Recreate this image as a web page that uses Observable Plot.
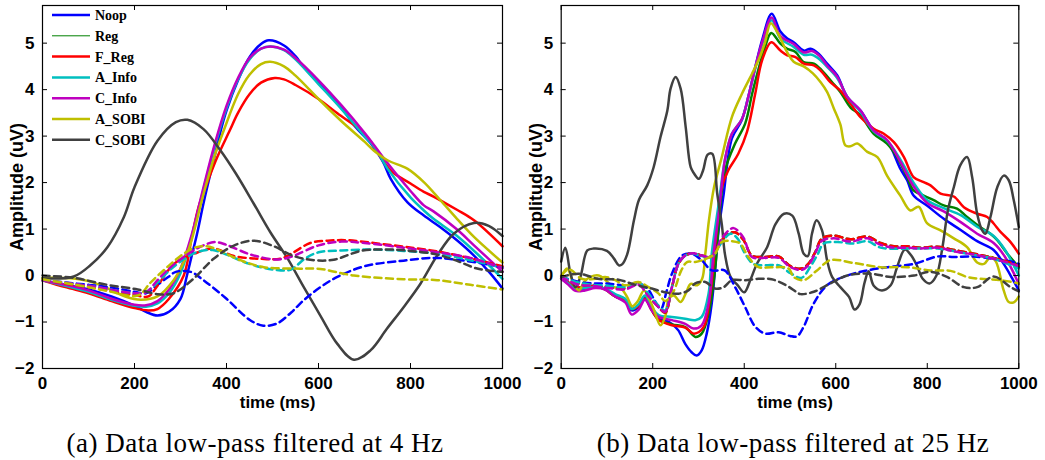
<!DOCTYPE html>
<html><head><meta charset="utf-8">
<script src="https://cdn.jsdelivr.net/npm/d3@7"></script>
<script src="https://cdn.jsdelivr.net/npm/@observablehq/plot@0.6"></script>
<style>
body{margin:0;background:#fff;width:1045px;height:460px;overflow:hidden;position:relative;}
#left{position:absolute;left:0;top:0}
#right{position:absolute;left:522px;top:0}
#legend{position:absolute;left:0;top:0}
.cap{position:absolute;top:428px;font-family:"Liberation Serif","Times New Roman",serif;font-size:27px;letter-spacing:0.5px;white-space:nowrap;transform:translateX(-50%);color:#000;line-height:30px}
</style></head><body>
<div id="left"></div><div id="right"></div><svg id="legend" width="200" height="160"></svg>
<div class="cap" style="left:255px">(a) Data low-pass filtered at 4 Hz</div>
<div class="cap" style="left:793px">(b) Data low-pass filtered at 25 Hz</div>
<script>
// ---------- series meta ----------
const seriesNames = ["Noop","Reg","F_Reg","A_Info","C_Info","A_SOBI","C_SOBI"];
const seriesColors = ["#0000ff","#008000","#ff0000","#00bfbf","#bf00bf","#bfbf00","#404040"];
const xTicks = [0,200,400,600,800,1000];
const yTicks = [-2,-1,0,1,2,3,4,5];

// ---------- (a) 4 Hz : solid ----------
const L_Noop = [[0,-0.1],[50,-0.2],[100,-0.3],[150,-0.45],[200,-0.65],[225,-0.78],[250,-0.86],[275,-0.78],[300,-0.5],[314,0],[325,0.45],[336,0.9],[351,1.6],[375,2.6],[387,3.1],[400,3.55],[425,4.2],[450,4.7],[475,4.98],[492,5.06],[525,4.95],[550,4.72],[568,4.48],[600,4.15],[641,3.73],[680,3.2],[713,2.85],[740,2.45],[757,2.08],[793,1.58],[829,1.29],[865,1.04],[901,0.76],[938,0.43],[974,0.04],[1000,-0.28]];
const L_F_Reg = [[0,-0.1],[50,-0.25],[100,-0.38],[150,-0.55],[200,-0.7],[230,-0.75],[250,-0.72],[275,-0.5],[307,0],[325,0.85],[340,1.5],[360,2.05],[380,2.55],[407,3.12],[425,3.5],[450,3.9],[475,4.15],[505,4.25],[525,4.22],[550,4.1],[600,3.8],[641,3.49],[700,3.05],[757,2.26],[800,1.98],[829,1.8],[850,1.7],[900,1.42],[938,1.19],[1000,0.63]];
const L_Reg = [[0,-0.1],[50,-0.25],[100,-0.38],[150,-0.55],[200,-0.7],[230,-0.75],[250,-0.72],[275,-0.5],[307,0],[325,0.85],[340,1.5],[360,2.05],[380,2.55],[407,3.12],[425,3.5],[450,3.9],[475,4.15],[505,4.25],[525,4.22],[550,4.1],[600,3.8],[641,3.49],[700,3.05],[757,2.26],[800,1.98],[829,1.8],[850,1.7],[900,1.42],[938,1.19],[1000,0.63]];
const L_A_Info = [[0,-0.1],[50,-0.22],[100,-0.35],[150,-0.52],[200,-0.65],[225,-0.67],[250,-0.6],[275,-0.38],[300,0.05],[325,0.85],[350,1.85],[375,2.8],[400,3.6],[425,4.22],[450,4.65],[475,4.88],[495,4.93],[525,4.85],[550,4.65],[600,4.12],[650,3.58],[700,3.0],[725,2.72],[750,2.3],[800,1.68],[829,1.4],[850,1.22],[900,0.86],[950,0.42],[1000,-0.07]];
const L_C_Info = [[0,-0.1],[50,-0.2],[100,-0.32],[150,-0.5],[200,-0.63],[225,-0.64],[250,-0.55],[275,-0.3],[300,0.15],[325,0.9],[350,1.9],[375,2.85],[400,3.65],[425,4.25],[450,4.68],[475,4.88],[495,4.93],[525,4.86],[550,4.68],[600,4.2],[650,3.66],[700,3.07],[725,2.75],[750,2.42],[800,1.82],[829,1.51],[850,1.38],[900,1.0],[938,0.65],[1000,0.08]];
const L_A_SOBI = [[0,-0.05],[61,-0.06],[100,-0.12],[141,-0.27],[180,-0.45],[214,-0.52],[250,-0.45],[285,-0.1],[307,0.29],[322,0.69],[350,1.75],[375,2.6],[394,3.12],[425,3.9],[450,4.32],[475,4.55],[495,4.6],[525,4.5],[550,4.3],[600,3.8],[650,3.32],[700,2.88],[720,2.69],[750,2.48],[793,2.3],[829,2.01],[865,1.62],[901,1.22],[938,0.83],[1000,0.28]];
const L_C_SOBI = [[0,-0.06],[68,-0.02],[104,0.22],[141,0.61],[177,1.26],[200,1.9],[250,2.9],[290,3.3],[315,3.35],[350,3.15],[387,2.69],[420,2.2],[459,1.55],[496,0.92],[532,0.38],[568,-0.25],[604,-0.86],[641,-1.47],[677,-1.81],[713,-1.61],[749,-1.14],[785,-0.68],[822,-0.17],[858,0.43],[894,0.9],[938,1.13],[970,1.07],[1000,0.85]];
// ---------- (a) 4 Hz : dashed ----------
const L_Noop_d = [[0,-0.1],[50,-0.15],[100,-0.2],[150,-0.26],[200,-0.35],[225,-0.38],[250,-0.2],[275,-0.02],[290,0.08],[322,0.08],[350,-0.1],[400,-0.5],[450,-0.95],[480,-1.08],[510,-1.03],[540,-0.8],[568,-0.53],[604,-0.25],[641,-0.03],[700,0.2],[785,0.32],[850,0.38],[900,0.34],[950,0.27],[1000,0.18]];
const L_F_Reg_d = [[0,-0.1],[100,-0.25],[200,-0.42],[230,-0.45],[250,-0.22],[286,0.25],[330,0.47],[373,0.58],[416,0.42],[474,0.36],[520,0.37],[546,0.5],[582,0.7],[620,0.75],[662,0.76],[720,0.7],[785,0.62],[858,0.52],[930,0.37],[1000,0.2]];
const L_Reg_d = [[0,-0.1],[100,-0.25],[200,-0.42],[230,-0.45],[250,-0.22],[286,0.25],[330,0.47],[373,0.58],[416,0.42],[474,0.36],[520,0.37],[546,0.5],[582,0.7],[620,0.75],[662,0.76],[720,0.7],[785,0.62],[858,0.52],[930,0.37],[1000,0.2]];
const L_A_Info_d = [[0,-0.1],[100,-0.22],[200,-0.38],[225,-0.35],[250,-0.15],[275,0.1],[300,0.3],[335,0.5],[370,0.55],[400,0.45],[450,0.25],[500,0.13],[540,0.13],[570,0.36],[600,0.5],[650,0.54],[713,0.56],[785,0.53],[858,0.47],[930,0.33],[1000,0.17]];
const L_C_Info_d = [[0,-0.1],[100,-0.22],[200,-0.38],[225,-0.36],[250,-0.1],[275,0.15],[300,0.35],[325,0.52],[350,0.65],[375,0.72],[400,0.66],[450,0.46],[500,0.35],[525,0.36],[550,0.44],[600,0.65],[650,0.73],[700,0.7],[785,0.6],[858,0.5],[930,0.38],[1000,0.16]];
const L_A_SOBI_d = [[0,-0.08],[100,-0.25],[141,-0.33],[207,-0.43],[236,-0.14],[279,0.25],[307,0.47],[330,0.6],[355,0.63],[380,0.56],[430,0.33],[481,0.18],[550,0.15],[604,0.14],[677,0.0],[785,-0.08],[858,-0.1],[930,-0.2],[1000,-0.3]];
const L_C_SOBI_d = [[0,0.0],[68,-0.05],[141,-0.2],[207,-0.3],[250,-0.4],[285,-0.38],[328,-0.07],[372,0.36],[415,0.64],[459,0.75],[503,0.63],[546,0.42],[590,0.33],[633,0.34],[692,0.53],[750,0.56],[800,0.53],[858,0.45],[900,0.32],[945,0.15],[1000,0.08]];

// ---------- (b) 25 Hz : solid ----------
const R_Noop = [[0,-0.07],[16,-0.17],[31,-0.28],[52,-0.28],[74,-0.25],[96,-0.28],[118,-0.43],[140,-0.53],[154,-0.75],[169,-0.68],[183,-0.46],[198,-0.71],[213,-0.93],[227,-0.96],[242,-1.04],[256,-1.18],[271,-1.47],[285,-1.65],[296,-1.72],[307,-1.61],[318,-1.25],[329,-0.6],[336,0.11],[344,0.97],[355,1.75],[373,2.95],[395,3.35],[409,3.85],[424,4.48],[440,5.1],[460,5.63],[479,5.25],[494,5.1],[508,5.02],[530,4.84],[545,4.88],[563,4.77],[581,4.56],[603,4.31],[625,3.84],[654,3.55],[683,3.12],[712,2.9],[741,2.3],[756,2.05],[770,1.72],[800,1.5],[836,1.22],[873,0.98],[909,0.74],[945,0.55],[967,0.25],[985,-0.05],[1000,-0.32]];
const R_Reg = [[0,-0.07],[16,-0.15],[31,-0.25],[52,-0.25],[74,-0.22],[96,-0.3],[118,-0.45],[140,-0.55],[154,-0.72],[169,-0.65],[183,-0.5],[198,-0.75],[213,-0.95],[242,-1.05],[271,-1.11],[293,-1.32],[307,-1.25],[322,-0.82],[336,0.1],[345,1.2],[358,2.26],[380,2.84],[402,3.27],[417,3.9],[430,4.4],[445,4.9],[459,5.22],[479,4.99],[494,4.88],[512,4.81],[530,4.59],[552,4.56],[570,4.41],[592,4.16],[610,3.95],[632,3.62],[654,3.45],[683,3.05],[712,2.84],[734,2.55],[756,2.12],[770,1.83],[792,1.72],[814,1.62],[836,1.51],[865,1.44],[887,1.26],[916,1.04],[938,0.9],[953,0.76],[975,0.47],[1000,0.18]];
const R_F_Reg = [[0,-0.07],[16,-0.15],[31,-0.25],[52,-0.25],[74,-0.22],[96,-0.3],[118,-0.45],[140,-0.55],[154,-0.72],[169,-0.65],[183,-0.5],[198,-0.75],[213,-0.95],[242,-1.07],[271,-1.12],[290,-1.25],[311,-1.11],[325,-0.46],[336,0.61],[351,1.9],[365,2.26],[387,2.62],[406,3.09],[424,3.91],[439,4.63],[459,5.02],[479,4.84],[494,4.74],[512,4.7],[530,4.56],[552,4.52],[567,4.41],[588,4.16],[610,3.98],[632,3.7],[654,3.41],[683,3.16],[705,3.05],[727,2.87],[749,2.55],[770,2.12],[792,2.01],[807,1.94],[829,1.76],[858,1.7],[880,1.47],[909,1.33],[931,1.26],[945,1.12],[960,0.94],[982,0.72],[1000,0.47]];
const R_A_Info = [[0,-0.07],[16,-0.17],[31,-0.3],[52,-0.27],[74,-0.25],[96,-0.28],[118,-0.4],[140,-0.5],[154,-0.72],[169,-0.62],[183,-0.43],[198,-0.68],[213,-0.85],[242,-0.89],[271,-0.93],[293,-0.96],[307,-0.89],[322,-0.39],[329,0.47],[345,1.6],[358,2.5],[373,3.05],[395,3.37],[409,3.85],[424,4.45],[440,5.0],[460,5.49],[479,5.1],[508,4.92],[530,4.75],[548,4.75],[565,4.65],[581,4.49],[603,4.25],[625,3.85],[654,3.52],[683,3.1],[712,2.9],[741,2.5],[770,2.0],[800,1.62],[836,1.45],[873,1.3],[909,1.05],[945,0.85],[970,0.55],[1000,0.0]];
const R_C_Info = [[0,-0.07],[16,-0.2],[31,-0.33],[52,-0.32],[74,-0.27],[96,-0.3],[118,-0.45],[140,-0.58],[154,-0.84],[169,-0.74],[183,-0.52],[198,-0.75],[213,-0.89],[242,-0.96],[271,-1.04],[289,-1.14],[307,-1.07],[322,-0.6],[333,0.47],[345,1.4],[358,2.5],[373,3.05],[395,3.37],[409,3.85],[424,4.48],[440,5.05],[460,5.55],[479,5.15],[508,4.98],[530,4.8],[548,4.83],[565,4.72],[581,4.52],[603,4.28],[625,3.85],[654,3.55],[683,3.12],[712,2.92],[741,2.45],[770,1.92],[800,1.56],[836,1.38],[873,1.15],[909,0.9],[945,0.7],[970,0.4],[1000,-0.18]];
const R_A_SOBI = [[0,-0.03],[13,0.15],[28,-0.2],[39,-0.32],[50,-0.14],[64,-0.03],[82,0.0],[97,-0.1],[115,-0.25],[130,-0.27],[144,-0.46],[155,-0.66],[166,-0.57],[181,-0.32],[192,-0.5],[202,-0.72],[217,-1.07],[228,-0.86],[235,-0.5],[246,-0.43],[261,-0.57],[272,-0.39],[283,-0.18],[297,-0.21],[308,-0.07],[315,0.47],[323,1.2],[334,1.9],[351,2.55],[373,3.41],[395,3.91],[417,4.34],[431,4.63],[445,5.0],[458,5.43],[472,5.24],[494,4.8],[508,4.6],[530,4.5],[550,4.35],[567,4.16],[581,3.95],[596,3.59],[610,3.25],[621,2.8],[632,2.78],[647,2.84],[669,2.66],[691,2.55],[712,2.15],[741,1.72],[763,1.4],[781,1.48],[800,1.12],[829,0.97],[858,0.8],[887,0.61],[909,0.28],[924,0.25],[938,0.4],[950,0.3],[967,-0.32],[978,-0.57],[990,-0.57],[1000,-0.45]];
const R_C_SOBI = [[0,0.3],[9,0.6],[20,0.06],[31,-0.25],[42,-0.03],[57,0.54],[71,0.58],[100,0.53],[115,0.37],[126,0.22],[133,0.24],[144,0.45],[159,1.19],[170,1.63],[188,1.94],[202,2.33],[217,2.98],[232,3.55],[239,4.02],[250,4.27],[261,4.02],[272,3.2],[283,2.33],[290,2.2],[301,2.08],[310,2.26],[320,2.6],[330,2.62],[341,1.76],[351,1.1],[358,0.45],[370,-0.03],[385,-0.2],[400,-0.36],[414,-0.08],[428,0.26],[450,0.61],[468,1.1],[487,1.33],[505,1.29],[519,0.9],[530,0.47],[539,0.42],[548,0.9],[558,1.19],[570,0.97],[581,0.33],[592,-0.03],[610,-0.25],[629,-0.46],[641,-0.73],[652,-0.62],[663,-0.15],[672,0.09],[683,-0.22],[701,-0.32],[720,-0.21],[734,0.18],[751,0.56],[765,0.43],[778,0.2],[790,-0.07],[805,-0.17],[820,0.0],[833,0.6],[845,1.4],[858,1.9],[872,2.37],[887,2.55],[898,2.12],[909,1.33],[920,0.97],[927,0.9],[938,1.26],[953,1.9],[967,2.15],[978,2.05],[989,1.62],[1000,1.04]];
// ---------- (b) 25 Hz : dashed ----------
const R_Noop_d = [[0,-0.03],[40,-0.14],[70,-0.17],[100,-0.17],[140,-0.21],[170,-0.17],[190,-0.3],[205,-0.55],[218,-0.72],[230,-0.35],[242,0.04],[264,0.43],[285,0.47],[307,0.33],[329,0.11],[357,0.11],[380,-0.25],[402,-0.68],[424,-1.1],[446,-1.25],[475,-1.22],[500,-1.3],[515,-1.31],[530,-1.1],[552,-0.6],[581,-0.21],[625,0.0],[669,0.11],[712,0.18],[771,0.25],[822,0.41],[858,0.4],[902,0.41],[945,0.36],[989,0.29],[1000,0.25]];
const R_F_Reg_d = [[0,-0.03],[38,-0.17],[67,-0.2],[103,-0.25],[140,-0.28],[169,-0.17],[191,-0.43],[213,-0.68],[227,-0.8],[242,-0.25],[256,0.25],[271,0.43],[289,0.48],[307,0.43],[329,0.41],[351,0.76],[366,0.9],[380,0.93],[398,0.77],[417,0.43],[446,0.4],[475,0.41],[501,0.2],[525,0.15],[540,0.25],[555,0.5],[570,0.8],[596,0.86],[632,0.78],[669,0.84],[698,0.7],[727,0.63],[756,0.63],[785,0.6],[822,0.62],[858,0.55],[902,0.47],[945,0.38],[989,0.25],[1000,0.2]];
const R_Reg_d = [[0,-0.03],[38,-0.17],[67,-0.2],[103,-0.25],[140,-0.28],[169,-0.17],[191,-0.43],[213,-0.68],[227,-0.8],[242,-0.25],[256,0.25],[271,0.43],[289,0.48],[307,0.43],[329,0.41],[351,0.76],[366,0.9],[380,0.93],[398,0.77],[417,0.43],[446,0.4],[475,0.41],[501,0.2],[525,0.15],[540,0.25],[555,0.5],[570,0.8],[596,0.86],[632,0.78],[669,0.84],[698,0.7],[727,0.63],[756,0.63],[785,0.6],[822,0.62],[858,0.55],[902,0.47],[945,0.38],[989,0.25],[1000,0.2]];
const R_A_Info_d = [[0,-0.03],[38,-0.15],[67,-0.2],[103,-0.22],[140,-0.25],[169,-0.15],[191,-0.4],[213,-0.65],[227,-0.75],[242,-0.25],[256,0.25],[271,0.43],[289,0.47],[307,0.42],[329,0.4],[351,0.72],[370,0.9],[385,0.8],[400,0.5],[420,0.25],[446,0.22],[475,0.22],[501,0.05],[525,-0.05],[545,0.2],[560,0.45],[574,0.69],[603,0.72],[639,0.69],[669,0.74],[698,0.6],[771,0.58],[822,0.58],[887,0.47],[945,0.36],[1000,0.15]];
const R_C_Info_d = [[0,-0.03],[38,-0.2],[67,-0.22],[103,-0.27],[140,-0.3],[169,-0.2],[191,-0.45],[213,-0.68],[227,-0.78],[242,-0.25],[256,0.25],[271,0.43],[289,0.48],[307,0.43],[329,0.41],[351,0.8],[366,0.97],[377,1.02],[398,0.82],[417,0.4],[446,0.38],[475,0.38],[501,0.18],[525,0.12],[540,0.22],[555,0.48],[570,0.75],[596,0.8],[632,0.73],[669,0.8],[698,0.66],[727,0.6],[756,0.6],[785,0.58],[822,0.6],[858,0.52],[902,0.45],[945,0.36],[989,0.24],[1000,0.2]];
const R_A_SOBI_d = [[0,0.0],[15,0.13],[23,0.11],[45,-0.07],[75,-0.07],[96,-0.03],[118,-0.1],[140,-0.21],[169,-0.14],[191,-0.25],[213,-0.39],[227,-0.55],[245,-0.35],[262,0.1],[275,0.29],[293,0.29],[316,0.36],[336,0.47],[351,0.72],[373,0.74],[391,0.69],[409,0.4],[431,0.18],[460,0.18],[497,0.15],[508,-0.03],[530,-0.1],[559,0.11],[588,0.33],[639,0.27],[698,0.18],[756,0.18],[807,0.11],[851,0.1],[887,-0.03],[916,-0.07],[960,-0.1],[1000,-0.17]];
const R_C_SOBI_d = [[0,-0.03],[38,0.04],[80,-0.07],[125,-0.09],[162,-0.2],[198,-0.28],[227,-0.36],[256,-0.39],[278,-0.32],[293,-0.17],[315,-0.14],[336,-0.28],[355,-0.25],[373,-0.1],[402,-0.1],[431,-0.07],[460,-0.08],[490,-0.2],[515,-0.36],[523,-0.4],[552,-0.35],[588,-0.17],[625,0.0],[676,0.04],[720,-0.03],[771,0.0],[807,0.08],[843,-0.03],[880,-0.25],[909,-0.25],[945,-0.02],[982,-0.25],[1000,-0.34]];

const leftSolid = [L_Noop, L_Reg, L_F_Reg, L_A_Info, L_C_Info, L_A_SOBI, L_C_SOBI];
const leftDashed = [L_Noop_d, L_Reg_d, L_F_Reg_d, L_A_Info_d, L_C_Info_d, L_A_SOBI_d, L_C_SOBI_d];
const rightSolid = [R_Noop, R_Reg, R_F_Reg, R_A_Info, R_C_Info, R_A_SOBI, R_C_SOBI];
const rightDashed = [R_Noop_d, R_Reg_d, R_F_Reg_d, R_A_Info_d, R_C_Info_d, R_A_SOBI_d, R_C_SOBI_d];

const SANS = "Liberation Sans, Arial, Helvetica, sans-serif";
const fmt = d => d < 0 ? "\u2212" + Math.abs(d) : String(d);

function panel({width, marginLeft, marginRight, solid, dashed, regWidth}) {
  const height = 410, marginTop = 5, marginBottom = 42;
  const fw = width - marginLeft - marginRight, fh = height - marginTop - marginBottom;
  const marks = [];
  solid.forEach((s, i) => {
    marks.push(Plot.line(s, {x: d => d[0], y: d => d[1], stroke: seriesColors[i],
      strokeWidth: i === 1 ? regWidth : 2.5, curve: "catmull-rom"}));
  });
  dashed.forEach((s, i) => {
    marks.push(Plot.line(s, {x: d => d[0], y: d => d[1], stroke: seriesColors[i],
      strokeWidth: i === 1 ? regWidth : 2.5, strokeDasharray: "7,4.5", curve: "catmull-rom"}));
  });
  // MATLAB-style inward ticks on all four sides
  marks.push(Plot.tickX(xTicks, {x: d => d, insetTop: fh - 5, stroke: "#000", strokeWidth: 1}));
  marks.push(Plot.tickX(xTicks, {x: d => d, insetBottom: fh - 5, stroke: "#000", strokeWidth: 1}));
  marks.push(Plot.tickY(yTicks, {y: d => d, insetRight: fw - 5, stroke: "#000", strokeWidth: 1}));
  marks.push(Plot.tickY(yTicks, {y: d => d, insetLeft: fw - 5, stroke: "#000", strokeWidth: 1}));
  marks.push(Plot.frame({stroke: "#000", strokeWidth: 1.2}));
  marks.push(Plot.axisX(xTicks, {anchor: "bottom", tickSize: 0, tickPadding: 8, label: null, tickFormat: fmt,
    fontSize: 17, fontWeight: "bold", fontFamily: SANS, fill: "#000"}));
  marks.push(Plot.axisY(yTicks, {anchor: "left", tickSize: 0, tickPadding: 8, label: null, tickFormat: fmt,
    fontSize: 17, fontWeight: "bold", fontFamily: SANS, fill: "#000"}));
  marks.push(Plot.text(["Amplitude (uV)"], {frameAnchor: "left", dx: -25, rotate: -90,
    text: d => d, fontSize: 18, fontWeight: "bold", fontFamily: SANS, fill: "#000",
    textAnchor: "middle", lineAnchor: "middle"}));
  marks.push(Plot.text(["time (ms)"], {frameAnchor: "bottom", dy: 34, dx: 5,
    text: d => d, fontSize: 17, fontWeight: "bold", fontFamily: SANS, fill: "#000",
    textAnchor: "middle", lineAnchor: "middle"}));
  return Plot.plot({
    width, height, marginTop, marginBottom, marginLeft, marginRight,
    x: {domain: [0, 1000]},
    y: {domain: [-2, 5.81]},
    style: {background: "#fff", overflow: "visible"},
    marks
  });
}

document.getElementById("left").append(panel({width: 522, marginLeft: 42, marginRight: 20,
  solid: leftSolid, dashed: leftDashed, regWidth: 1}));
document.getElementById("right").append(panel({width: 523, marginLeft: 38.7, marginRight: 26.7,
  solid: rightSolid, dashed: rightDashed, regWidth: 2.5}));

// legend (left panel, top-left, no box)
const leg = d3.select("#legend");
seriesNames.forEach((name, i) => {
  const y = 15 + i * 20.8;
  leg.append("line").attr("x1", 52).attr("x2", 90).attr("y1", y).attr("y2", y)
    .attr("stroke", seriesColors[i]).attr("stroke-width", i === 1 ? 1 : 2.5);
  leg.append("text").attr("x", 95).attr("y", y).attr("dy", "0.35em")
    .attr("font-family", "Liberation Serif, Times New Roman, serif").attr("font-weight", "bold")
    .attr("font-size", 14).attr("fill", "#000").text(name);
});
</script>
</body></html>
